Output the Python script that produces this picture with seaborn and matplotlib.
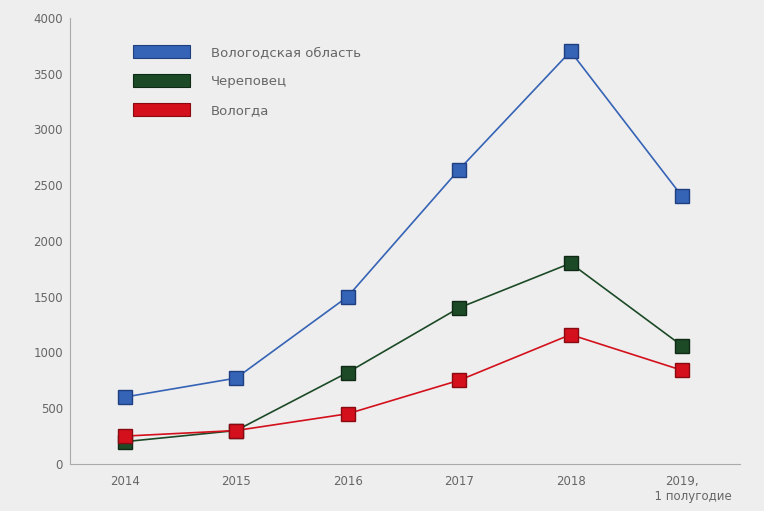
import matplotlib
matplotlib.use("Agg")
import matplotlib.pyplot as plt
import matplotlib.patches as mpatches
import seaborn as sns
import pandas as pd

years = ["2014", "2015", "2016", "2017", "2018", "2019,\n      1 полугодие"]
series_names = ["Вологодская область", "Череповец", "Вологда"]
oblast = [600, 770, 1500, 2640, 3700, 2400]
cherepovets = [200, 300, 820, 1400, 1800, 1060]
vologda = [250, 300, 450, 750, 1160, 840]
yticks = [0, 500, 1000, 1500, 2000, 2500, 3000, 3500, 4000]

colors = ["#3563b5", "#1c4a27", "#d3101c"]
edge = ["#1f3f80", "#0e2a14", "#8a0a12"]

rows = []
for name, vals in zip(series_names, [oblast, cherepovets, vologda]):
    for i, v in enumerate(vals):
        rows.append({"x": i, "value": v, "series": name})
df = pd.DataFrame(rows)

sns.set_style("white")
plt.rcParams["font.family"] = ["DejaVu Sans"]

fig = plt.figure(figsize=(7.64, 5.11), dpi=100, facecolor="#eeeeee")
ax = fig.add_axes([0.0916, 0.092, 0.877, 0.873])
ax.set_facecolor("#eeeeee")

for name, c, ec in zip(series_names, colors, edge):
    sub = df[df["series"] == name]
    sns.lineplot(data=sub, x="x", y="value", ax=ax, color=c, linewidth=1.2,
                 marker="s", markersize=9.5, markeredgecolor=ec, markeredgewidth=1.0,
                 legend=False)

ax.set_xlim(-0.49, 5.52)
ax.set_ylim(0, 4000)
ax.set_xticks(range(len(years)))
ax.set_xticklabels(years)
ax.set_yticks(yticks)
ax.set_yticklabels([str(t) for t in yticks])
ax.set_xlabel("")
ax.set_ylabel("")
for s in ["top", "right"]:
    ax.spines[s].set_visible(False)
for s in ["left", "bottom"]:
    ax.spines[s].set_color("#aaaaaa")
    ax.spines[s].set_linewidth(0.8)
ax.tick_params(axis="both", direction="in", length=5, color="#aaaaaa", width=0.8,
               labelsize=8.5, labelcolor="#666666")
ax.tick_params(axis="y", pad=5)
ax.tick_params(axis="x", pad=8)

handles = [mpatches.Patch(facecolor=c, edgecolor=ec, linewidth=0.8) for c, ec in zip(colors, edge)]
leg = ax.legend(handles, series_names, loc="upper left", bbox_to_anchor=(0.076, 0.966),
                frameon=False, handlelength=4.3, handleheight=1.1, handletextpad=1.6,
                labelspacing=1.15, fontsize=9.5)
for t in leg.get_texts():
    t.set_color("#666666")

fig.savefig("out.png", dpi=100, facecolor=fig.get_facecolor())
